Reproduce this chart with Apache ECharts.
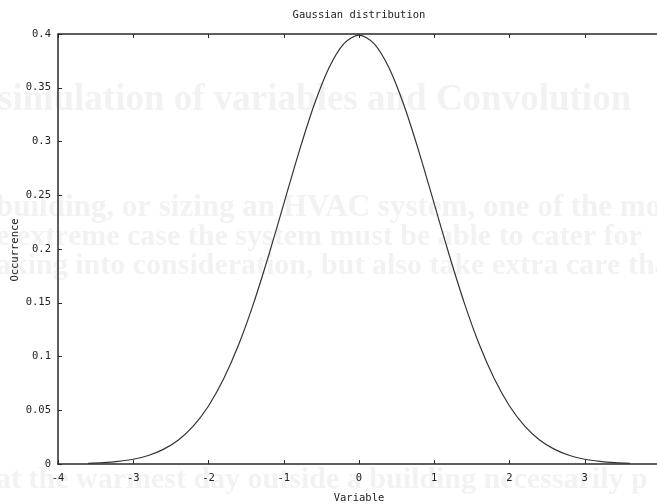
<!DOCTYPE html>
<html>
<head>
<meta charset="utf-8">
<script src="https://cdn.jsdelivr.net/npm/echarts@6/dist/echarts.min.js"></script>
<style>
html,body{margin:0;padding:0;background:#fff;overflow:hidden;}
#chart{width:662px;height:504px;}
</style>
</head>
<body>
<div id="chart"></div>
<script>
// values (x step 0.2)
var xs = [-3.6,-3.4,-3.2,-3.0,-2.8,-2.6,-2.4,-2.2,-2.0,-1.8,-1.6,-1.4,-1.2,-1.0,-0.8,-0.6,-0.4,-0.2,
          0,0.2,0.4,0.6,0.8,1.0,1.2,1.4,1.6,1.8,2.0,2.2,2.4,2.6,2.8,3.0,3.2,3.4,3.6];
var ys = [0.0006,0.0012,0.0024,0.0044,0.0079,0.0136,0.0224,0.0355,0.0540,0.0790,0.1109,0.1497,0.1942,0.2420,0.2897,0.3332,0.3683,0.3910,
          0.3989,0.3910,0.3683,0.3332,0.2897,0.2420,0.1942,0.1497,0.1109,0.0790,0.0540,0.0355,0.0224,0.0136,0.0079,0.0044,0.0024,0.0012,0.0006];
var xTicks = [-4, 4, 1];
var yTicks = [0, 0.4, 0.05];
// faint text showing through from the other side of the scanned page
var ghostLines = [
    {text:'simulation of variables and Convolution', x:-2, y:100, size:37},
    {text:'building, or sizing an HVAC system, one of the mo', x:-4, y:208, size:31},
    {text:'e extreme case the system must be able to cater for', x:-4, y:237, size:30},
    {text:'aking into consideration, but also take extra care that it', x:-4, y:266, size:30},
    {text:'at the warmest day outside a building necessarily p', x:-4, y:480, size:30}
];

var myChart = echarts.init(document.getElementById('chart'));

var points = xs.map(function(x, i){ return [x, ys[i]]; });

var graphics = ghostLines.map(function(g){
    return {
        type:'text', x:g.x, y:g.y, z:-10, silent:true,
        style:{text:g.text, fill:'#f2f2f2', font:'bold ' + g.size + 'px "Liberation Serif", serif', verticalAlign:'middle'}
    };
});
graphics.push({
    type:'text', x:359, y:15,
    style:{text:'Gaussian distribution', fill:'#222', font:'10.5px "DejaVu Sans Mono", monospace', align:'center', verticalAlign:'middle'}
});
// y axis title placed by hand, the axis name gets pushed out past the labels
graphics.push({
    type:'text', x:15, y:250, rotation:Math.PI/2,
    style:{text:'Occurrence', fill:'#222', font:'10.5px "DejaVu Sans Mono", monospace', align:'center', verticalAlign:'middle'}
});

var axisFont = {color:'#222', fontSize:10.5, fontFamily:'DejaVu Sans Mono'};
var lineCol = '#2a2a2a';

var option = {
    animation:false,
    backgroundColor:'#fff',
    graphic:graphics,
    grid:{left:58, top:34, bottom:40, right:2, containLabel:false, outerBoundsMode:'none'},
    xAxis:[
        {
            type:'value', min:xTicks[0], max:xTicks[1], interval:xTicks[2],
            name:'Variable', nameLocation:'middle', nameGap:29,
            nameTextStyle:axisFont,
            axisLine:{onZero:false, lineStyle:{color:lineCol, width:1.5}},
            axisTick:{inside:true, length:4, lineStyle:{color:lineCol}},
            axisLabel:Object.assign({margin:9, showMaxLabel:false}, axisFont),
            splitLine:{show:false}
        },
        {
            type:'value', position:'top', min:xTicks[0], max:xTicks[1], interval:xTicks[2],
            axisLine:{onZero:false, lineStyle:{color:lineCol, width:1.5}},
            axisTick:{inside:true, length:4, lineStyle:{color:lineCol}},
            axisLabel:{show:false},
            splitLine:{show:false}
        }
    ],
    yAxis:[
        {
            type:'value', min:yTicks[0], max:yTicks[1], interval:yTicks[2],
            axisLine:{show:true, onZero:false, lineStyle:{color:lineCol, width:1.5}},
            axisTick:{show:true, inside:true, length:4, lineStyle:{color:lineCol}},
            axisLabel:Object.assign({margin:7}, axisFont),
            splitLine:{show:false}
        },
        {
            type:'value', position:'right', min:yTicks[0], max:yTicks[1], interval:yTicks[2],
            axisLine:{show:true, onZero:false, lineStyle:{color:lineCol, width:1.5}},
            axisTick:{show:false},
            axisLabel:{show:false},
            splitLine:{show:false}
        }
    ],
    series:[
        {
            type:'line',
            data:points,
            smooth:0.3,
            symbol:'none',
            lineStyle:{color:'#333', width:1.2}
        }
    ]
};
myChart.setOption(option);
</script>
</body>
</html>
